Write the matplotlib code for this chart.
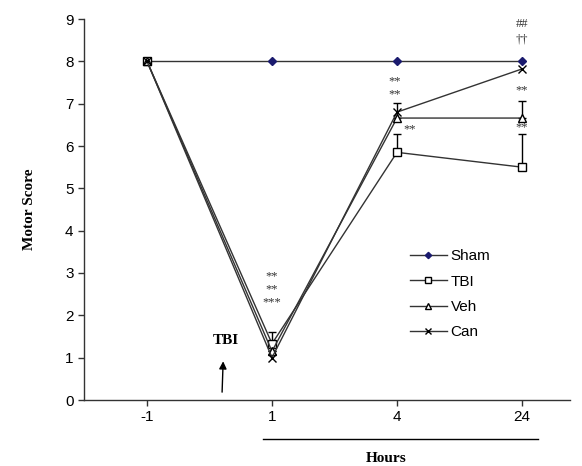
import matplotlib
matplotlib.use("Agg")
import matplotlib.pyplot as plt
import numpy as np

hours = ['-1', '1', '4', '24']
sham = [8, 8, 8, 8]
tbi = [8, 1.33, 5.85, 5.5]
veh = [8, 1.15, 6.66, 6.66]
can = [8, 1.0, 6.8, 7.82]
tbi_err = [0, 0.27, 0.43, 0.78]
veh_err = [0, 0, 0.35, 0.40]

SANS = 'Liberation Sans'
SERIF = 'Liberation Serif'

fig = plt.figure(figsize=(5.82, 4.66), dpi=100)
ax = fig.add_axes([84 / 582, 66 / 466, 486 / 582, 381 / 466])
x = np.arange(len(hours))
lc = '#333333'

ax.errorbar(x, tbi, yerr=[np.zeros(4), tbi_err], fmt='none', ecolor='black',
            elinewidth=1, capsize=3, capthick=1)
ax.errorbar(x, veh, yerr=[np.zeros(4), veh_err], fmt='none', ecolor='black',
            elinewidth=1, capsize=3, capthick=1)
ax.plot(x, sham, color=lc, lw=1, marker='D', ms=4, mfc='#1a1a6e', mec='#1a1a6e', label='Sham')
ax.plot(x, tbi, color=lc, lw=1, marker='s', ms=5.5, mfc='white', mec='black', label='TBI')
ax.plot(x, veh, color=lc, lw=1, marker='^', ms=6, mfc='white', mec='black', label='Veh')
ax.plot(x, can, color=lc, lw=1, marker='x', ms=5.5, mec='black', label='Can')

ax.set_xlim(-0.504, 3.384)
ax.set_ylim(0, 9)
ax.set_yticks(range(10))
ax.set_xticks(x)
ax.set_xticklabels(hours)
for lab in ax.get_xticklabels() + ax.get_yticklabels():
    lab.set_fontfamily(SANS)
    lab.set_fontsize(11)
ax.tick_params(direction='out', length=4, width=1, color=lc)
ax.spines['top'].set_visible(False)
ax.spines['right'].set_visible(False)
for s in ('left', 'bottom'):
    ax.spines[s].set_color(lc)
    ax.spines[s].set_linewidth(1)

ax.set_ylabel('Motor Score', family=SERIF, fontweight='bold', fontsize=11, labelpad=21)

# significance marks
star = dict(ha='center', va='center', fontsize=9, family=SERIF, color='#333333')
ax.text(1.0, 2.91, '**', **star)
ax.text(1.0, 2.62, '**', **star)
ax.text(1.0, 2.30, '***', **star)
ax.text(1.98, 7.52, '**', **star)
ax.text(1.98, 7.22, '**', **star)
ax.text(2.1, 6.4, '**', **star)
ax.text(3.0, 7.32, '**', **star)
ax.text(3.0, 6.45, '**', **star)
ax.text(3.0, 8.88, '##', **star)
ax.text(3.0, 8.52, '\u2020\u2020', **star)

# TBI arrow
ax.text(0.63, 1.40, 'TBI', family=SERIF, fontweight='bold', fontsize=11, ha='center', va='center')
ax.annotate('', xy=(0.61, 0.98), xytext=(0.6, 0.12),
            arrowprops=dict(arrowstyle='-|>', color='black', lw=1, mutation_scale=11))

# Hours underline and label
fig.add_artist(plt.Line2D([263 / 582, 538 / 582], [1 - 439 / 466, 1 - 439 / 466],
                          color='black', lw=1))
fig.text(386 / 582, 1 - 459 / 466, 'Hours', family=SERIF, fontweight='bold',
         fontsize=11, ha='center', va='center')

leg = ax.legend(loc='upper left', bbox_to_anchor=(320 / 486, 1 - 224 / 381), frameon=False,
                prop={'family': SANS, 'size': 11}, handlelength=2.4, handletextpad=0.25,
                labelspacing=0.75, borderaxespad=0, markerscale=0.8)

fig.savefig('out.png', dpi=100)
